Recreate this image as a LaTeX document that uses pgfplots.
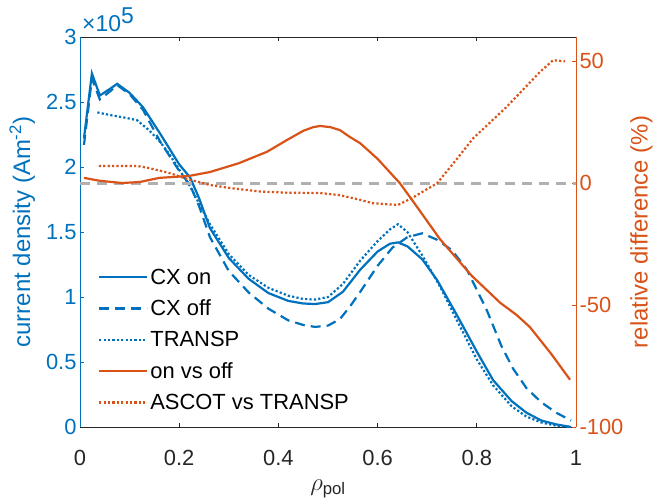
\documentclass[border=0pt]{standalone}
\usepackage{pgfplots}
\pgfplotsset{compat=1.18}
\usepackage{fontspec}
\setmainfont{Liberation Sans}
\definecolor{mblue}{HTML}{0072BD}
\definecolor{morange}{HTML}{D95319}
\definecolor{mgray}{HTML}{262626}
\definecolor{lgray}{HTML}{B0B0B0}
\pgfplotsset{
  common/.style={
    scale only axis, width=496bp, height=390bp,
    xmin=0, xmax=1,
    tick align=inside, major tick length=4.5bp,
    tick label style={font=\fontsize{22}{26}\selectfont},
    label style={font=\fontsize{24}{28}\selectfont},
    every axis plot/.append style={line width=2.2bp},
    axis line style={line width=0.8bp},
  },
}
\begin{document}
\begin{tikzpicture}
\path[use as bounding box] (-80bp,-75bp) rectangle (582bp,427bp);
\begin{axis}[common,
  clip mode=individual,
  ymin=0, ymax=300000,
  scaled y ticks=false,
  separate axis lines,
  x axis line style={mgray},
  y axis line style={mblue},
  ytick pos=left,
  xtick={0,0.2,0.4,0.6,0.8,1},
  xticklabels={0,0.2,0.4,0.6,0.8,1},
  x tick style={mgray, line width=0.8bp},
  xticklabel style={text=mgray, yshift=-20bp},
  ytick={0,50000,100000,150000,200000,250000,300000},
  yticklabels={0,0.5,1,1.5,2,2.5,3},
  y tick style={mblue, line width=0.8bp},
  yticklabel style={text=mblue},
  xlabel={$\rho$\textsubscript{pol}},
  xlabel style={text=mgray, yshift=-7bp},
  ylabel={current density (Am\textsuperscript{-2})},
  ylabel style={text=mblue, yshift=4bp},
  legend style={at={(rel axis cs:0,0)}, anchor=south west, xshift=15bp, yshift=12bp,
    draw=none, fill=none, font=\fontsize{22}{26}\selectfont, row sep=10.25bp},
  legend cell align=left,
  legend image code/.code={\draw[#1] (0bp,0bp) -- (48bp,0bp);},
]
\addplot[mblue, solid] coordinates {
(0.008,222000)(0.024,272000)(0.04,255000)(0.06,260000)(0.075,264000)(0.1,257000)
(0.127,246000)(0.161,226000)(0.2,202000)(0.222,192000)(0.24,176000)(0.262,153000)
(0.3,130000)(0.34,114000)(0.38,103000)(0.42,97000)(0.45,95000)(0.474,94600)
(0.5,96000)(0.53,104000)(0.565,121000)(0.6,135000)(0.625,141000)(0.641,142000)
(0.66,139000)(0.69,129000)(0.72,113000)(0.76,86000)(0.8,58000)(0.833,36000)
(0.87,20000)(0.9,11000)(0.93,5000)(0.96,2000)(0.99,0)};
\addlegendentry{CX on}
\addplot[mblue, dash pattern=on 10bp off 6bp] coordinates {
(0.008,217000)(0.024,268000)(0.04,252000)(0.06,258000)(0.075,263000)(0.1,256000)
(0.127,244000)(0.161,220000)(0.2,197000)(0.222,186000)(0.24,170000)(0.262,146000)
(0.3,120000)(0.34,103500)(0.38,91000)(0.42,82000)(0.45,78500)(0.474,77000)
(0.5,78000)(0.524,83000)(0.544,92500)(0.565,104000)(0.6,124000)(0.63,138000)
(0.66,146000)(0.69,149000)(0.72,144000)(0.75,136000)(0.78,121000)(0.82,90000)
(0.85,62000)(0.873,45000)(0.9,30000)(0.93,19000)(0.96,11000)(0.99,5000)};
\addlegendentry{CX off}
\addplot[mblue, dash pattern=on 2.2bp off 2.2bp] coordinates {
(0.035,242000)(0.06,240000)(0.09,238000)(0.115,236000)(0.14,228000)(0.16,220000)
(0.18,210000)(0.2,198000)(0.222,185000)(0.24,172000)(0.262,156000)(0.3,133000)
(0.34,117000)(0.38,107000)(0.42,101000)(0.45,98500)(0.474,98000)(0.5,100000)
(0.53,110000)(0.565,128000)(0.6,143000)(0.625,152000)(0.641,156000)(0.66,150000)
(0.69,132000)(0.726,108000)(0.76,82000)(0.8,52000)(0.833,32000)(0.87,16000)
(0.9,8000)(0.93,3500)(0.96,1000)(0.99,0)};
\addlegendentry{TRANSP}
\addlegendimage{morange, solid, line width=2.2bp}
\addlegendentry{on vs off}
\addlegendimage{morange, dash pattern=on 2.2bp off 2.2bp, line width=2.2bp}
\addlegendentry{ASCOT vs TRANSP}
\node[anchor=base west, text=mblue, font=\fontsize{23}{26}\selectfont, inner sep=0pt]
  at (rel axis cs:0,1) [yshift=5bp, xshift=2bp] {×10\raisebox{8bp}{5}};
\end{axis}
\begin{axis}[common,
  ymin=-100, ymax=60,
  axis x line=none,
  axis y line*=right,
  y axis line style={morange},
  ytick={-100,-50,0,50},
  yticklabels={-100,-50,0,50},
  y tick style={morange, line width=0.8bp},
  yticklabel style={text=morange},
  ylabel={relative difference (\%)},
  ylabel style={text=morange},
]
\addplot[lgray, dash pattern=on 10bp off 7bp, line width=2.6bp] coordinates {(0,0)(1,0)};
\addplot[morange, solid] coordinates {
(0.008,2.2)(0.04,1.0)(0.085,0.1)(0.12,0.5)(0.16,2.2)(0.22,3)(0.262,4.6)(0.32,8.2)
(0.377,12.9)(0.417,17.7)(0.45,21.5)(0.47,23)(0.484,23.5)(0.505,23)(0.524,21.8)
(0.544,19)(0.565,16.4)(0.6,10)(0.645,0)(0.67,-7)(0.726,-23)(0.79,-38)(0.847,-49)
(0.88,-54)(0.907,-59)(0.95,-70)(0.988,-80.6)};
\addplot[morange, dash pattern=on 2.2bp off 2.2bp] coordinates {
(0.038,7.1)(0.115,7.1)(0.14,6.2)(0.18,4.2)(0.22,1.5)(0.262,-0.7)(0.3,-1.9)
(0.363,-3.4)(0.42,-3.9)(0.484,-4)(0.524,-4.9)(0.565,-6.8)(0.59,-8.2)(0.641,-8.9)
(0.67,-6)(0.695,-3)(0.72,0)(0.76,10)(0.793,18.5)(0.86,31.3)(0.927,45.6)
(0.954,50.5)(0.978,50)};
\end{axis}
\end{tikzpicture}
\end{document}
